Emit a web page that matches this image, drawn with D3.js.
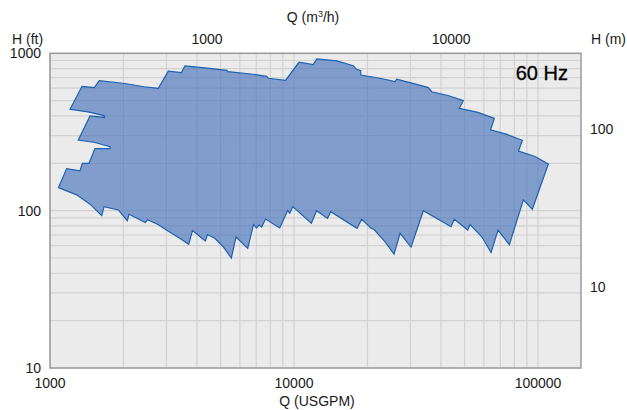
<!DOCTYPE html>
<html>
<head>
<meta charset="utf-8">
<script src="https://cdn.jsdelivr.net/npm/d3@7"></script>
<style>
body { margin: 0; background: #fff; }
text { font-family: "Liberation Sans", Arial, sans-serif; fill: #1a1a1a; }
</style>
</head>
<body>
<div id="chart"></div>
<script>
// envelope of the pump range (clockwise from the lower left tip)
var flowGpm = [1083, 1170, 1327, 1357, 1445, 1529, 1762, 1762, 1529, 1306,
               1459, 1673, 1665, 1431, 1208, 1353, 1519, 1592, 2029, 2428,
               2779, 3054, 3458, 3574, 4317, 5300, 5365, 6792, 7729, 7847,
               9230, 10480, 11990, 12390, 14960, 17500, 18070, 18770, 18770, 22520,
               25940, 26360, 30450, 35510, 36670, 42770, 49420, 47590, 56770, 66220,
               63880, 74650, 86250, 83200, 97210, 110200, 94760, 87070, 76280, 68560,
               64190, 58950, 52640, 51510, 45390, 43990, 33880, 30170, 27200, 25700,
               23380, 21280, 20690, 18940, 18120, 14140, 13720, 12370, 11780, 9879,
               9603, 9423, 8737, 7642, 7372, 7187, 7019, 6823, 6461, 5785,
               5534, 5117, 4746, 4421, 4330, 3837, 3702, 3410, 3045, 2771,
               2514, 2458, 2107, 2074, 1905, 1665, 1629, 1459, 1286];
var headFt = [140, 185, 179, 200, 200, 248, 248, 255, 271, 281,
              400, 391, 402, 424, 441, 617, 605, 670, 643, 613,
              599, 769, 755, 833, 807, 780, 764, 736, 714, 694,
              674, 877, 847, 920, 896, 834, 791, 775, 728, 694,
              660, 684, 647, 605, 570, 539, 500, 447, 421, 386,
              326, 305, 280, 239, 221, 198, 102, 117, 60.8, 75.3,
              54.2, 68, 81.7, 75.3, 88.1, 79.1, 99.9, 58.7, 71.8, 52.9,
              64.6, 75.9, 77.2, 88.1, 77.2, 98.5, 89.2, 99.9, 83.1, 106,
              96.2, 100.2, 77.6, 88.5, 78.7, 81.1, 77.6, 81.7, 57.6, 68,
              50, 59.2, 66.5, 70.5, 64.1, 74.8, 61.2, 66.5, 74.2, 81.7,
              87.6, 84.1, 94.8, 86.3, 101, 106, 92.9, 110, 126];

var gpmTicks = [1000, 10000, 100000];
var ftTicks = [10, 100, 1000];
var m3hTicks = [1000, 10000];
var mTicks = [10, 100];

var GPM_PER_M3H = 4.40287,
    FT_PER_M = 3.28084;

var W = 627, H = 410;
// note: "top" is taken by window.top, so keep the plot edges in one place
var plot = { left: 50, right: 581, top: 53.3, bottom: 368 };

var svg = d3.select("#chart")
            .append("svg")
            .attr("width", W)
            .attr("height", H);

var x = d3.scaleLog().domain([1000, 150000]).range([plot.left, plot.right]);
var y = d3.scaleLog().domain([10, 1000]).range([plot.bottom, plot.top]);
var xTop = d3.scaleLog().domain([1000 / GPM_PER_M3H, 150000 / GPM_PER_M3H]).range([plot.left, plot.right]);
var yRight = d3.scaleLog().domain([10 / FT_PER_M, 1000 / FT_PER_M]).range([plot.bottom, plot.top]);

// plot background
svg.append("rect")
   .attr("x", plot.left)
   .attr("y", plot.top)
   .attr("width", plot.right - plot.left)
   .attr("height", plot.bottom - plot.top)
   .style("fill", "#ebebeb");

// grid
svg.selectAll("line.vgrid")
   .data(x.ticks())
   .enter()
   .append("line")
   .attr("class", "vgrid")
   .attr("x1", function(d) { return x(d); })
   .attr("x2", function(d) { return x(d); })
   .attr("y1", plot.top)
   .attr("y2", plot.bottom)
   .style("stroke", "#d2d2d2")
   .style("stroke-width", 1.2);

svg.selectAll("line.hgrid")
   .data(y.ticks())
   .enter()
   .append("line")
   .attr("class", "hgrid")
   .attr("x1", plot.left)
   .attr("x2", plot.right)
   .attr("y1", function(d) { return y(d); })
   .attr("y2", function(d) { return y(d); })
   .style("stroke", "#d2d2d2")
   .style("stroke-width", 1.2);

// envelope
var pts = flowGpm.map(function(q, i) { return [q, headFt[i]]; });
var line = d3.line()
             .x(function(d) { return x(d[0]); })
             .y(function(d) { return y(d[1]); });

svg.append("path")
   .attr("d", line(pts) + "Z")
   .style("fill", "rgb(68,112,184)")
   .style("fill-opacity", 0.64)
   .style("stroke", "#1d62b0")
   .style("stroke-width", 1.2)
   .style("stroke-linejoin", "miter");

// frame
svg.append("rect")
   .attr("x", plot.left)
   .attr("y", plot.top)
   .attr("width", plot.right - plot.left)
   .attr("height", plot.bottom - plot.top)
   .style("fill", "none")
   .style("stroke", "#9c9c9c")
   .style("stroke-width", 1.5);

// tick labels
svg.selectAll("text.bx")
   .data(gpmTicks)
   .enter()
   .append("text")
   .attr("x", function(d) { return x(d); })
   .attr("y", 388)
   .attr("text-anchor", "middle")
   .style("font-size", "14px")
   .text(function(d) { return d; });

svg.selectAll("text.ly")
   .data(ftTicks)
   .enter()
   .append("text")
   .attr("x", 41)
   .attr("y", function(d) { return y(d) + 5; })
   .attr("text-anchor", "end")
   .style("font-size", "14px")
   .text(function(d) { return d; });

svg.selectAll("text.tx")
   .data(m3hTicks)
   .enter()
   .append("text")
   .attr("x", function(d) { return xTop(d); })
   .attr("y", 44)
   .attr("text-anchor", "middle")
   .style("font-size", "14px")
   .text(function(d) { return d; });

svg.selectAll("text.ry")
   .data(mTicks)
   .enter()
   .append("text")
   .attr("x", 590)
   .attr("y", function(d) { return yRight(d) + 5; })
   .style("font-size", "14px")
   .text(function(d) { return d; });

// axis titles
svg.append("text")
   .attr("x", 12)
   .attr("y", 44)
   .style("font-size", "14px")
   .text("H (ft)");

svg.append("text")
   .attr("x", 591)
   .attr("y", 44)
   .style("font-size", "14px")
   .text("H (m)");

svg.append("text")
   .attr("x", 317)
   .attr("y", 406)
   .attr("text-anchor", "middle")
   .style("font-size", "14px")
   .text("Q (USGPM)");

var qTitle = svg.append("text")
   .attr("x", 313)
   .attr("y", 22)
   .attr("text-anchor", "middle")
   .style("font-size", "14px");
qTitle.append("tspan").text("Q (m");
qTitle.append("tspan").attr("dy", -5).style("font-size", "9px").text("3");
qTitle.append("tspan").attr("dy", 5).text("/h)");

svg.append("text")
   .attr("x", 568)
   .attr("y", 80)
   .attr("text-anchor", "end")
   .style("font-size", "20px")
   .style("fill", "#000")
   .style("stroke", "#000")
   .style("stroke-width", 0.3)
   .text("60 Hz");
</script>
</body>
</html>
